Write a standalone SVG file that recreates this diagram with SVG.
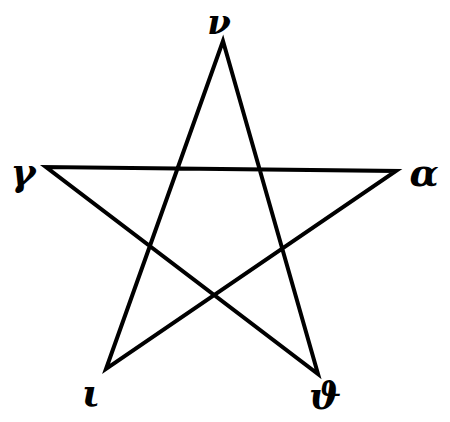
<svg xmlns="http://www.w3.org/2000/svg" width="450" height="422" viewBox="0 0 450 422">
<style>
.l{font-family:"DejaVu Serif","Liberation Serif",serif;font-weight:bold;font-style:italic;font-size:38px;fill:#000;text-anchor:middle}
.s{fill:none;stroke:#000;stroke-width:4;stroke-linejoin:miter;stroke-miterlimit:20}
</style>
<rect width="450" height="422" fill="#fff"/>
<g id="connectors">
<path class="s" d="M223,41 L106,369 L396,171 L46,167 L318,374 Z"/>
</g>
<g id="n-top"><text class="l" x="219" y="34" style="font-size:34px">ν</text></g>
<g id="n-left"><text class="l" x="23" y="185">γ</text></g>
<g id="n-right"><text class="l" x="424" y="186">α</text></g>
<g id="n-ll"><text class="l" x="91" y="406">ι</text></g>
<g id="n-lr"><text class="l" x="325" y="409">ϑ</text></g>
</svg>
